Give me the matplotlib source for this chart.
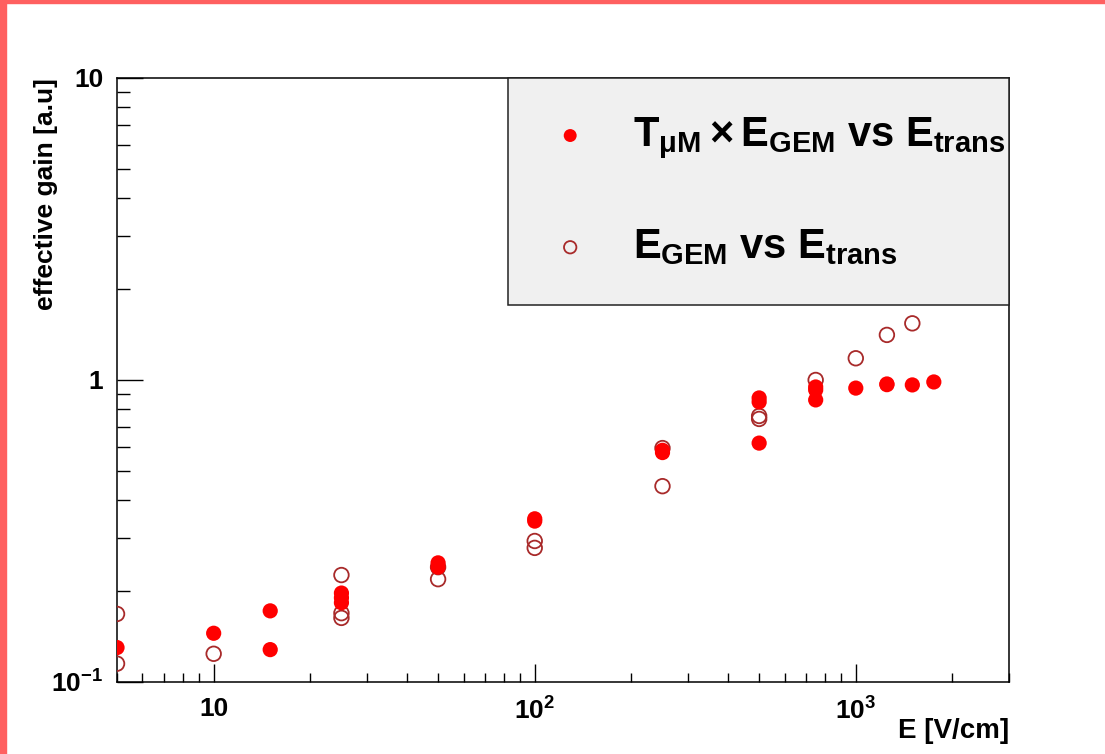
import matplotlib.pyplot as plt
from matplotlib.patches import Rectangle
from matplotlib.ticker import LogLocator, NullFormatter

# transfer field scan, gain measured in two ways
E_full = [5, 10, 15, 15, 25, 25, 25, 50, 50, 100, 100, 250, 250,
          500, 500, 500, 750, 750, 750, 1000, 1250, 1250, 1500, 1750]
gain_full = [0.130, 0.145, 0.172, 0.128, 0.197, 0.190, 0.183, 0.248, 0.240,
             0.347, 0.341, 0.575, 0.585, 0.872, 0.846, 0.618, 0.948, 0.927,
             0.859, 0.940, 0.970, 0.965, 0.963, 0.985]

E_gem = [5, 5, 10, 25, 25, 25, 50, 50, 100, 100, 250, 250,
         500, 500, 750, 1000, 1250, 1500]
gain_gem = [0.168, 0.115, 0.124, 0.226, 0.169, 0.163, 0.240, 0.219, 0.293,
            0.278, 0.595, 0.445, 0.760, 0.743, 1.00, 1.18, 1.41, 1.54]

xticks = [10, 100, 1000]
xticklabels = ['10', r'$10^2$', r'$10^3$']
yticks = [0.1, 1, 10]
yticklabels = [r'$10^{-1}$', '1', '10']

label_full = r'$T_{\mu M}\times E_{GEM}$ vs $E_{trans}$'
label_gem = r'$E_{GEM}$ vs $E_{trans}$'

plt.rcParams['font.family'] = 'Liberation Sans'
plt.rcParams['font.weight'] = 'bold'
plt.rcParams['mathtext.fontset'] = 'custom'
plt.rcParams['mathtext.rm'] = 'Liberation Sans:bold'
plt.rcParams['mathtext.it'] = 'Liberation Sans:bold'
plt.rcParams['mathtext.bf'] = 'Liberation Sans:bold'

fig = plt.figure(figsize=(11.05, 7.54), dpi=100)
ax = fig.add_axes([0.1059, 0.0955, 0.8072, 0.8011])

ax.scatter(E_gem, gain_gem, s=110, facecolors='none', edgecolors='#a82a2a',
           linewidths=1.3, label=label_gem, zorder=3)
ax.scatter(E_full, gain_full, s=120, color='#ff0000', edgecolors='none',
           label=label_full, zorder=4)

ax.set_xscale('log')
ax.set_yscale('log')
ax.set_xlim(5, 3000)
ax.set_ylim(0.1, 10)

ax.set_xticks(xticks, xticklabels)
ax.set_yticks(yticks, yticklabels)
ax.xaxis.set_minor_locator(LogLocator(base=10, subs=range(2, 10)))
ax.yaxis.set_minor_locator(LogLocator(base=10, subs=range(2, 10)))
ax.xaxis.set_minor_formatter(NullFormatter())
ax.yaxis.set_minor_formatter(NullFormatter())

ax.tick_params(axis='both', which='both', direction='in', width=1.0,
               labelsize=19, top=False, right=False)
ax.tick_params(axis='x', which='major', length=13, pad=11)
ax.tick_params(axis='x', which='minor', length=6.5)
ax.tick_params(axis='y', which='major', length=19, pad=10)
ax.tick_params(axis='y', which='minor', length=9.5)
for sp in ax.spines.values():
    sp.set_linewidth(1.1)

ax.set_xlabel('E [V/cm]', fontsize=20, fontweight='bold')
ax.xaxis.set_label_coords(1.0, -0.0596)
ax.xaxis.label.set_ha('right')
ax.set_ylabel('effective gain [a.u]', fontsize=19, fontweight='bold')
ax.yaxis.set_label_coords(-0.066, 1.0)
ax.yaxis.label.set_ha('right')

handles, labels = ax.get_legend_handles_labels()
leg = ax.legend(handles[::-1], labels[::-1], loc='upper left',
                bbox_to_anchor=(0.438, 0.627, 0.562, 0.373), mode='expand',
                borderaxespad=0, fontsize=30, markerscale=0.85,
                labelspacing=1.58, borderpad=0.9, handletextpad=0.9,
                handlelength=1.2, fancybox=False, framealpha=1)
leg.get_frame().set_facecolor('#f0f0f0')
leg.get_frame().set_edgecolor('#222222')
leg.get_frame().set_linewidth(1.1)

# page border on the left and top
fig.add_artist(Rectangle((0, 0), 6 / 1105, 1, transform=fig.transFigure,
                         color='#ff6060', zorder=0))
fig.add_artist(Rectangle((0, 1 - 2.5 / 754), 1, 2.5 / 754,
                         transform=fig.transFigure, color='#ff6060', zorder=0))

fig.savefig('out.png', dpi=100)
